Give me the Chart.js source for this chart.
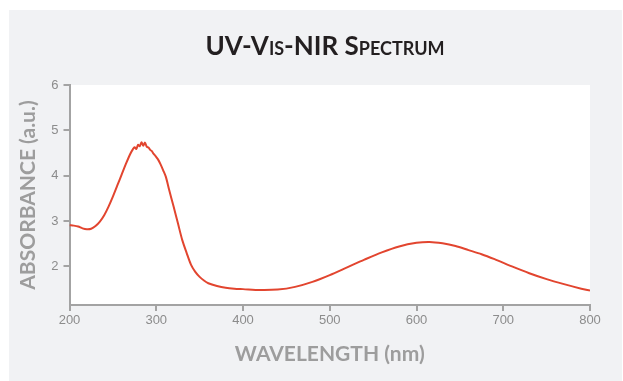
<!DOCTYPE html>
<html lang="en">
  <head>
    <meta charset="UTF-8" />
    <title>UV-Vis-NIR Spectrum</title>
    <style>
      html, body { margin: 0; padding: 0; background: #ffffff; }
      #wrap { width: 623px; height: 381px; }
    </style>
  </head>
  <body>
    <div id="wrap"><canvas id="myChart" width="623" height="381"></canvas></div>
    <script src="https://cdn.jsdelivr.net/npm/chart.js"></script>
    <script>
      // wavelength (nm) and absorbance (a.u.)
      const wavelength = [
        200, 205, 210, 215, 220, 225, 230, 235, 240, 245, 250, 255, 260, 265, 270,
        273, 275, 277, 279, 281, 283, 285, 287, 289, 291, 293, 295, 297, 299, 302,
        305, 308, 311, 315, 320, 325, 330, 335, 340, 345, 350, 355, 360, 370, 380,
        390, 400, 420, 440, 460, 480, 500, 520, 540, 560, 580, 600, 615, 630, 645,
        660, 675, 690, 710, 730, 750, 770, 790, 800
      ];
      const absorbance = [
        2.91, 2.90, 2.88, 2.84, 2.82, 2.83, 2.89, 2.99, 3.13, 3.32, 3.54, 3.78, 4.02, 4.26, 4.48,
        4.58, 4.63, 4.59, 4.68, 4.65, 4.74, 4.66, 4.73, 4.64, 4.62, 4.57, 4.54, 4.48, 4.44, 4.36,
        4.25, 4.12, 3.98, 3.68, 3.32, 2.95, 2.58, 2.30, 2.04, 1.88, 1.77, 1.69, 1.63, 1.57, 1.53,
        1.51, 1.50, 1.48, 1.49, 1.55, 1.66, 1.81, 1.98, 2.15, 2.31, 2.44, 2.52, 2.54, 2.51, 2.45,
        2.36, 2.27, 2.16, 2.00, 1.85, 1.72, 1.61, 1.51, 1.47
      ];
      const xTicks = [200, 300, 400, 500, 600, 700, 800];
      const yTicks = [2, 3, 4, 5, 6];

      const axisGray = "#a3a3a3";
      const tickGray = "#8c8c8c";
      const titleGray = "#9d9d9d";

      // gray panel + white plot area
      const panel = {
        id: "panel",
        beforeDraw(chart) {
          const { ctx, chartArea } = chart;
          ctx.save();
          ctx.fillStyle = "#f1f2f4";
          ctx.fillRect(9, 10, 613, 371);
          ctx.fillStyle = "#ffffff";
          ctx.fillRect(chartArea.left, chartArea.top, chartArea.right - chartArea.left, chartArea.bottom - chartArea.top);
          ctx.restore();
        },
      };

      const data = {
        datasets: [
          {
            data: wavelength.map((w, i) => ({ x: w, y: absorbance[i] })),
            borderColor: "#e2452f",
            borderWidth: 2,
            pointRadius: 0,
            tension: 0.3,
            fill: false,
          },
        ],
      };

      const config = {
        type: "line",
        data: data,
        plugins: [panel],
        options: {
          responsive: false,
          animation: false,
          // left/right padding keeps the title centred like the original
          layout: { padding: { left: 36, right: 9, top: 10, bottom: 0 } },
          plugins: {
            legend: { display: false },
            tooltip: { enabled: false },
            title: {
              display: true,
              text: "UV-Vis-NIR Spectrum",
              color: "#231f20",
              font: { family: "Lato", size: 26, weight: "small-caps 700", lineHeight: 1.2 },
              padding: { top: 21, bottom: 22.8 },
            },
          },
          scales: {
            x: {
              type: "linear",
              min: 200,
              max: 800,
              afterBuildTicks: (s) => { s.ticks = xTicks.map((v) => ({ value: v })); },
              afterFit: (s) => { s.height = 76; },
              border: { display: true, color: axisGray, width: 2 },
              grid: { drawOnChartArea: false, drawTicks: true, tickLength: 6, color: axisGray, lineWidth: 2 },
              ticks: { color: tickGray, font: { family: "Liberation Sans", size: 13 }, padding: 2, maxRotation: 0 },
              title: {
                display: true,
                text: "WAVELENGTH (nm)",
                color: titleGray,
                font: { family: "Lato", size: 21, weight: "bold", lineHeight: 1.2 },
                padding: { top: 0, bottom: 14.4 },
              },
            },
            y: {
              type: "linear",
              min: 1.15,
              max: 6,
              afterBuildTicks: (s) => { s.ticks = yTicks.map((v) => ({ value: v })); },
              afterFit: (s) => { s.width = 33.5; },
              border: { display: true, color: axisGray, width: 2 },
              grid: { drawOnChartArea: false, drawTicks: true, tickLength: 6, color: axisGray, lineWidth: 2 },
              ticks: { color: tickGray, font: { family: "Liberation Sans", size: 13 }, padding: 5 },
              title: {
                display: true,
                text: "ABSORBANCE (a.u.)",
                color: titleGray,
                font: { family: "Lato", size: 21, weight: "bold", lineHeight: 1.2 },
                padding: { top: -19.9, bottom: 0 },
              },
            },
            // empty spacer on the right so the plot ends at 800 where it should
            spacer: {
              type: "linear",
              position: "right",
              display: true,
              grid: { display: false },
              border: { display: false },
              ticks: { display: false },
              afterFit: (s) => { s.width = 24; },
            },
          },
        },
      };
      const myChart = new Chart(document.getElementById("myChart"), config);
    </script>
  </body>
</html>
